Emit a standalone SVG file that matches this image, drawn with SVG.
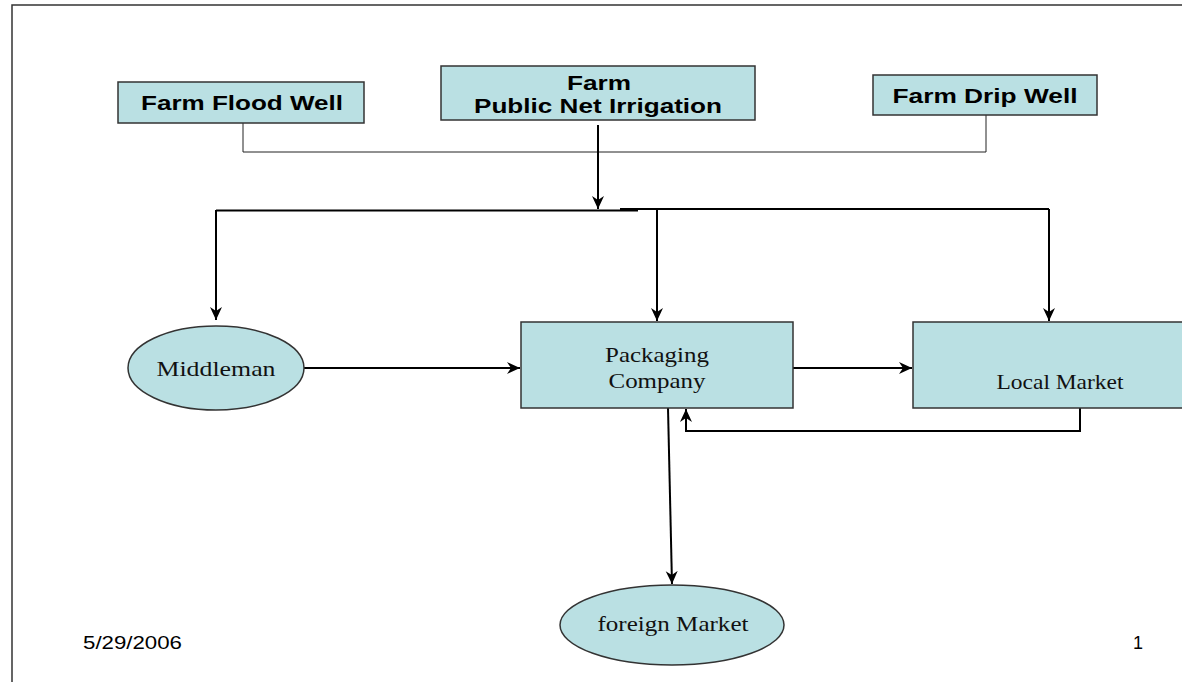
<svg xmlns="http://www.w3.org/2000/svg" width="1182" height="682" viewBox="0 0 1182 682">
<defs>
<style>
.box{fill:#bae0e3;stroke:#333;stroke-width:1.5}
.hd{font-family:"Liberation Sans",Arial,sans-serif;font-weight:bold;font-size:20px;fill:#000;text-anchor:middle}
.sr{font-family:"Liberation Serif","Times New Roman",serif;font-size:21px;fill:#111;text-anchor:middle}
.ft{font-family:"Liberation Sans",Arial,sans-serif;font-size:18px;fill:#000}
.thin{fill:none;stroke:#222;stroke-width:1}
.thk{fill:none;stroke:#000;stroke-width:2}
</style>
<marker id="ah" viewBox="0 0 14 14" refX="13" refY="7" markerWidth="14" markerHeight="14" markerUnits="userSpaceOnUse" orient="auto">
<path d="M0,1 L13,7 L0,13 L4,7 Z" fill="#000"/>
</marker>
</defs>
<rect width="1182" height="682" fill="#fff"/>
<path d="M12,682 V5 H1182" fill="none" stroke="#333" stroke-width="1.5"/>

<g id="connectors">
<path class="thin" d="M243,123 V152 H986 V115"/>
<path class="thk" d="M598,125 V209" marker-end="url(#ah)"/>
<path class="thk" d="M216,210.5 H638"/>
<path class="thk" d="M620,209 H1049"/>
<path class="thk" d="M216,210 V320" marker-end="url(#ah)"/>
<path class="thk" d="M657,209 V321" marker-end="url(#ah)"/>
<path class="thk" d="M1049,209 V321" marker-end="url(#ah)"/>
<path class="thk" d="M304,368 H520" marker-end="url(#ah)"/>
<path class="thk" d="M793,368 H912" marker-end="url(#ah)"/>
<path class="thk" d="M1080,408 V431 H686 V409" marker-end="url(#ah)"/>
<path class="thk" d="M668,408 L672,584" marker-end="url(#ah)"/>
</g>

<g id="farm-flood-well">
<rect class="box" x="118" y="82" width="246" height="41"/>
<text class="hd" x="242" y="110" textLength="202" lengthAdjust="spacingAndGlyphs">Farm Flood Well</text>
</g>
<g id="farm-public">
<rect class="box" x="441" y="66" width="314" height="54"/>
<text class="hd" x="599" y="90" textLength="64" lengthAdjust="spacingAndGlyphs">Farm</text>
<text class="hd" x="598" y="113" textLength="248" lengthAdjust="spacingAndGlyphs">Public Net Irrigation</text>
</g>
<g id="farm-drip-well">
<rect class="box" x="873" y="75" width="224" height="40"/>
<text class="hd" x="985" y="103" textLength="185" lengthAdjust="spacingAndGlyphs">Farm Drip Well</text>
</g>
<g id="middleman">
<ellipse class="box" cx="216" cy="368" rx="88" ry="42"/>
<text class="sr" x="216" y="376" textLength="119" lengthAdjust="spacingAndGlyphs">Middleman</text>
</g>
<g id="packaging-company">
<rect class="box" x="521" y="322" width="272" height="86"/>
<text class="sr" x="657" y="362" textLength="104" lengthAdjust="spacingAndGlyphs">Packaging</text>
<text class="sr" x="657" y="388" textLength="97" lengthAdjust="spacingAndGlyphs">Company</text>
</g>
<g id="local-market">
<rect class="box" x="913" y="322" width="280" height="86"/>
<text class="sr" x="1060" y="389" textLength="127" lengthAdjust="spacingAndGlyphs">Local Market</text>
</g>
<g id="foreign-market">
<ellipse class="box" cx="672" cy="625" rx="112" ry="40"/>
<text class="sr" x="673" y="631" textLength="151" lengthAdjust="spacingAndGlyphs">foreign Market</text>
</g>
<g id="footer">
<text class="ft" x="83" y="649" textLength="99" lengthAdjust="spacingAndGlyphs">5/29/2006</text>
<text class="ft" x="1133" y="649">1</text>
</g>
</svg>
